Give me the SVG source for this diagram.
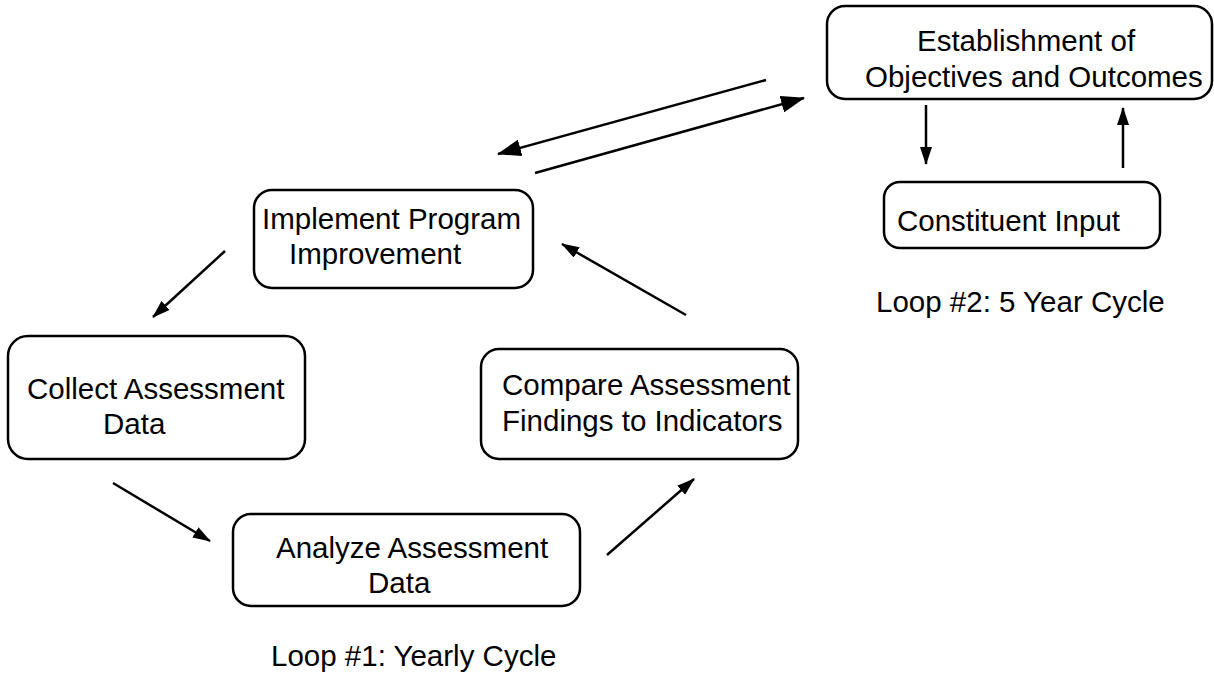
<svg xmlns="http://www.w3.org/2000/svg" width="1214" height="689" viewBox="0 0 1214 689">
<style>
.box{fill:#fff;stroke:#000;stroke-width:2.5}
.t{font-family:"Liberation Sans",Arial,sans-serif;font-size:29.5px;fill:#000}
.c{stroke:#000;stroke-width:2.5;fill:none}
</style>
<defs>
<marker id="big" viewBox="0 0 24 17" refX="23" refY="8.5" markerWidth="24" markerHeight="17" markerUnits="userSpaceOnUse" orient="auto"><path d="M0,0 L24,8.5 L0,17 Z" fill="#000"/></marker>
<marker id="sm" viewBox="0 0 18 12" refX="17" refY="6" markerWidth="18" markerHeight="12" markerUnits="userSpaceOnUse" orient="auto"><path d="M0,0 L18,6 L0,12 Z" fill="#000"/></marker>
</defs>
<rect width="1214" height="689" fill="#fff"/>
<g id="n-establish"><rect class="box" x="827" y="6" width="385" height="93" rx="18"/><text class="t" x="917" y="51">Establishment of</text><text class="t" x="865" y="87">Objectives and Outcomes</text></g>
<g id="n-constituent"><rect class="box" x="884" y="182" width="276" height="66" rx="16"/><text class="t" x="897" y="231">Constituent Input</text></g>
<g id="n-implement"><rect class="box" x="254" y="190" width="279" height="98" rx="18"/><text class="t" x="262" y="229">Implement Program</text><text class="t" x="289" y="264">Improvement</text></g>
<g id="n-collect"><rect class="box" x="8" y="336" width="297" height="123" rx="20"/><text class="t" x="27" y="399">Collect Assessment</text><text class="t" x="103" y="434">Data</text></g>
<g id="n-compare"><rect class="box" x="481" y="349" width="317" height="110" rx="18"/><text class="t" x="502" y="395">Compare Assessment</text><text class="t" x="502" y="431">Findings to Indicators</text></g>
<g id="n-analyze"><rect class="box" x="233" y="514" width="347" height="92" rx="18"/><text class="t" x="276" y="558">Analyze Assessment</text><text class="t" x="368" y="593">Data</text></g>
<g id="labels"><text class="t" x="876" y="312">Loop #2: 5 Year Cycle</text><text class="t" x="271" y="666">Loop #1: Yearly Cycle</text></g>
<g id="connectors">
<line class="c" x1="766" y1="80" x2="498" y2="154" marker-end="url(#big)"/>
<line class="c" x1="535" y1="173" x2="804" y2="98" marker-end="url(#big)"/>
<line class="c" x1="926" y1="105" x2="926" y2="164" marker-end="url(#sm)"/>
<line class="c" x1="1123" y1="168" x2="1123" y2="108" marker-end="url(#sm)"/>
<line class="c" x1="225" y1="251" x2="153" y2="317" marker-end="url(#sm)"/>
<line class="c" x1="686" y1="315" x2="562" y2="244" marker-end="url(#sm)"/>
<line class="c" x1="113" y1="483" x2="210" y2="541" marker-end="url(#sm)"/>
<line class="c" x1="607" y1="555" x2="694" y2="479" marker-end="url(#sm)"/>
</g>
</svg>
